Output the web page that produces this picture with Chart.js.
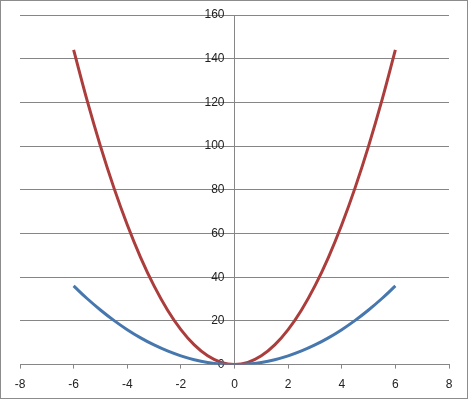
<!DOCTYPE html>
<html>
<head>
<meta charset="utf-8">
<script src="https://cdn.jsdelivr.net/npm/chart.js@4"></script>
<style>
    body { margin: 0; background: #fff; }
    #wrap { width: 468px; height: 399px; box-sizing: border-box; border: 1px solid #8c8c8c; background: #fff; }
</style>
</head>
<body>
<div id="wrap"><canvas id="parabolaChart"></canvas></div>
<script>
// x positions
const xValues = [-6, -5.5, -5, -4.5, -4, -3.5, -3, -2.5, -2, -1.5, -1, -0.5, 0, 0.5, 1, 1.5, 2, 2.5, 3, 3.5, 4, 4.5, 5, 5.5, 6];
// lower (blue) curve
const blueValues = [36, 30.25, 25, 20.25, 16, 12.25, 9, 6.25, 4, 2.25, 1, 0.25, 0, 0.25, 1, 2.25, 4, 6.25, 9, 12.25, 16, 20.25, 25, 30.25, 36];
// upper (red) curve
const redValues = [144, 121, 100, 81, 64, 49, 36, 25, 16, 9, 4, 1, 0, 1, 4, 9, 16, 25, 36, 49, 64, 81, 100, 121, 144];

const xTicks = [-8, -6, -4, -2, 0, 2, 4, 6, 8];
const yTicks = [0, 20, 40, 60, 80, 100, 120, 140, 160];

function toPoints(values) {
    return xValues.map((x, i) => ({ x: x, y: values[i] }));
}

const axisGray = '#868686';

new Chart(document.getElementById('parabolaChart'), {
    type: 'scatter',
    data: {
        datasets: [
            {
                label: 'Series1',
                data: toPoints(blueValues),
                showLine: true,
                borderColor: '#4677ae',
                borderWidth: 3,
                pointRadius: 0,
                tension: 0.4
            },
            {
                label: 'Series2',
                data: toPoints(redValues),
                showLine: true,
                borderColor: '#ab3e3c',
                borderWidth: 3,
                pointRadius: 0,
                tension: 0.4
            }
        ]
    },
    options: {
        responsive: true,
        maintainAspectRatio: false,
        animation: false,
        layout: { padding: { left: 19, right: 18, top: 14, bottom: -3 } },
        plugins: {
            legend: { display: false },
            tooltip: { enabled: false }
        },
        scales: {
            x: {
                type: 'linear',
                position: 'bottom',
                min: xTicks[0],
                max: xTicks[xTicks.length - 1],
                afterBuildTicks: (scale) => { scale.ticks = xTicks.map(v => ({ value: v })); },
                grid: { drawOnChartArea: false, drawTicks: true, tickLength: 4, color: axisGray },
                border: { color: axisGray },
                ticks: {
                    padding: 9,
                    color: '#222',
                    font: { family: 'Liberation Sans', size: 12 }
                }
            },
            y: {
                type: 'linear',
                position: { x: 0 },
                min: yTicks[0],
                max: yTicks[yTicks.length - 1],
                afterBuildTicks: (scale) => { scale.ticks = yTicks.map(v => ({ value: v })); },
                grid: { color: axisGray, drawTicks: false },
                border: { color: axisGray },
                ticks: {
                    color: '#222',
                    font: { family: 'Liberation Sans', size: 12 },
                    // labels sit left of the centred axis; trailing gap keeps them off the line
                    callback: (v) => v + '   '
                }
            }
        }
    }
});
</script>
</body>
</html>
